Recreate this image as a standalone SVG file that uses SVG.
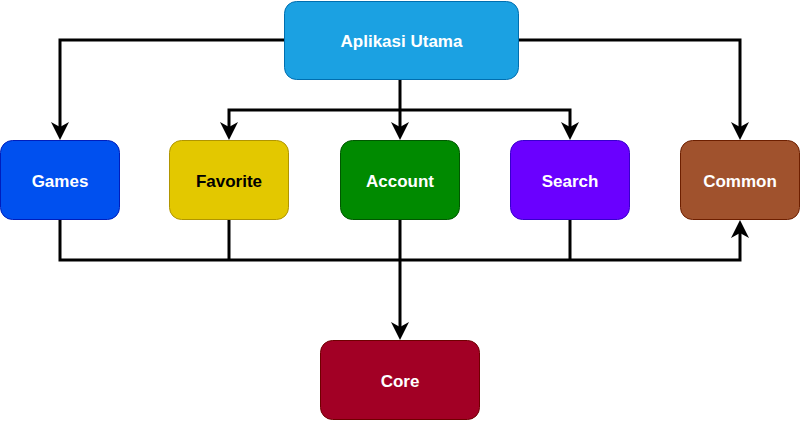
<svg xmlns="http://www.w3.org/2000/svg" width="801" height="421" viewBox="0 0 801 421">
<style>
.n{stroke-width:1}
.t{font-family:"Liberation Sans",Arial,Helvetica,sans-serif;font-weight:bold;font-size:17px;text-anchor:middle;dominant-baseline:central;fill:#ffffff}
.c{fill:none;stroke:#000000;stroke-width:3;stroke-linejoin:miter}
</style>
<defs>
<marker id="a" markerUnits="userSpaceOnUse" viewBox="0 0 18 18" refX="5" refY="9" markerWidth="18" markerHeight="18" orient="auto">
<path d="M0,0 L18,9 L0,18 L5,9 Z" fill="#000000"/>
</marker>
</defs>
<rect x="0" y="0" width="801" height="421" fill="#ffffff"/>
<g id="connectors">
<path class="c" d="M284,40 H60 V127" marker-end="url(#a)"/>
<path class="c" d="M518,40 H740 V127" marker-end="url(#a)"/>
<path class="c" d="M400,80 V127" marker-end="url(#a)"/>
<path class="c" d="M400,110 H229 V127" marker-end="url(#a)"/>
<path class="c" d="M400,110 H570 V127" marker-end="url(#a)"/>
<path class="c" d="M60,220 V260 H740 V233" marker-end="url(#a)"/>
<path class="c" d="M229,220 V260"/>
<path class="c" d="M570,220 V260"/>
<path class="c" d="M400,220 V327" marker-end="url(#a)"/>
</g>
<g id="aplikasi-utama">
<rect class="n" x="284.5" y="1.5" width="234" height="78" rx="12" fill="#1ba1e2" stroke="#006eaf"/>
<text class="t" x="401.5" y="41">Aplikasi Utama</text>
</g>
<g id="games">
<rect class="n" x="0.5" y="140.5" width="119" height="79" rx="12" fill="#0050ef" stroke="#001dbc"/>
<text class="t" x="60" y="181">Games</text>
</g>
<g id="favorite">
<rect class="n" x="169.5" y="140.5" width="119" height="79" rx="12" fill="#e3c800" stroke="#b09500"/>
<text class="t" x="229" y="181" style="fill:#000000">Favorite</text>
</g>
<g id="account">
<rect class="n" x="340.5" y="140.5" width="119" height="79" rx="12" fill="#008a00" stroke="#005700"/>
<text class="t" x="400" y="181">Account</text>
</g>
<g id="search">
<rect class="n" x="510.5" y="140.5" width="119" height="79" rx="12" fill="#6a00ff" stroke="#3700cc"/>
<text class="t" x="570" y="181">Search</text>
</g>
<g id="common">
<rect class="n" x="680.5" y="140.5" width="119" height="79" rx="12" fill="#a0522d" stroke="#6d1f00"/>
<text class="t" x="740" y="181">Common</text>
</g>
<g id="core">
<rect class="n" x="320.5" y="340.5" width="159" height="79" rx="12" fill="#a20025" stroke="#6f0000"/>
<text class="t" x="400" y="381">Core</text>
</g>
</svg>
